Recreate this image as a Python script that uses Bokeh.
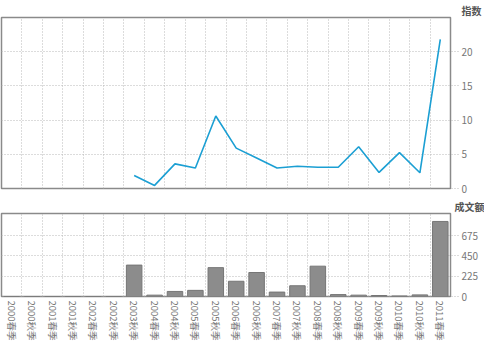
import math
from bokeh.plotting import figure
from bokeh.layouts import column
from bokeh.models import Range1d, FixedTicker
from bokeh.embed import file_html
from bokeh.resources import INLINE

NAN = float("nan")

seasons = ["2000春季", "2000秋季", "2001春季", "2001秋季", "2002春季", "2002秋季",
           "2003秋季", "2004春季", "2004秋季", "2005春季", "2005秋季", "2006春季",
           "2006秋季", "2007春季", "2007秋季", "2008春季", "2008秋季", "2009春季",
           "2009秋季", "2010春季", "2010秋季", "2011春季"]
index_values = [NAN, NAN, NAN, NAN, NAN, NAN,
                1.9, 0.45, 3.6, 3.0, 10.6, 5.9,
                4.45, 3.0, 3.25, 3.1, 3.1, 6.1,
                2.35, 5.25, 2.3, 21.8]
amount_values = [0, 0, 0, 0, 0, 0,
                 348, 15, 56, 68, 320, 169,
                 266, 49, 119, 336, 21, 15,
                 11, 6, 18, 832]
index_ticks = [0, 5, 10, 15, 20]
amount_ticks = [0, 225, 450, 675]
index_title = "指数"
amount_title = "成文额"

FONT = "Noto Sans CJK SC"
W = 484
RB = 34
xs = list(range(len(seasons)))
bounds = [i + 0.5 for i in range(len(seasons) - 1)]


def style(p, yticks, offset):
    p.outline_line_color = "#8a8a8a"
    p.outline_line_width = 1.5
    p.xgrid.ticker = FixedTicker(ticks=bounds)
    for g in (p.xgrid, p.ygrid):
        g.grid_line_color = "#b8b8b8"
        g.grid_line_dash = "1 2"
        g.grid_line_width = 1
    ax = p.yaxis[0]
    ax.ticker = FixedTicker(ticks=yticks)
    ax.axis_line_color = None
    ax.major_tick_out = 8
    ax.major_tick_in = 0
    ax.major_tick_line_color = "#b8b8b8"
    ax.major_tick_line_dash = "1 2"
    ax.minor_tick_line_color = None
    ax.major_label_standoff = 3
    ax.major_label_text_font = FONT
    ax.major_label_text_font_size = "10px"
    ax.major_label_text_color = "#777777"
    t = p.title
    t.align = "right"
    t.offset = offset
    t.standoff = 0
    t.text_font = FONT
    t.text_font_size = "10px"
    t.text_font_style = "bold"
    t.text_color = "#555555"


top = figure(width=W, height=196, output_backend="svg", toolbar_location=None,
             title=index_title,
             x_range=Range1d(-0.5, len(seasons) - 0.5), y_range=Range1d(0, 25),
             x_axis_location=None, y_axis_location="right",
             min_border_left=1, min_border_right=RB, min_border_top=0, min_border_bottom=8)
style(top, index_ticks, -31)
top.line(xs, index_values, line_color="#1b9fd3", line_width=1.6)

bot = figure(width=W, height=147, output_backend="svg", toolbar_location=None,
             title=amount_title,
             x_range=Range1d(-0.5, len(seasons) - 0.5), y_range=Range1d(0, 920),
             y_axis_location="right",
             min_border_left=1, min_border_right=RB, min_border_top=0, min_border_bottom=0)
style(bot, amount_ticks, -34)
bot.vbar(x=xs, top=amount_values, width=0.76, bottom=0,
         fill_color="#8c8c8c", line_color="#767676", line_width=1)
xa = bot.xaxis[0]
xa.ticker = FixedTicker(ticks=xs)
xa.major_label_overrides = {i: s for i, s in enumerate(seasons)}
xa.major_label_orientation = -math.pi / 2
xa.axis_line_color = None
xa.major_tick_line_color = None
xa.major_tick_out = 0
xa.major_tick_in = 0
xa.minor_tick_line_color = None
xa.major_label_standoff = 4
xa.major_label_text_font = FONT
xa.major_label_text_font_size = "9.5px"
xa.major_label_text_color = "#777777"

layout = column(top, bot, spacing=0)
open("out.html", "w").write(file_html(layout, INLINE))
